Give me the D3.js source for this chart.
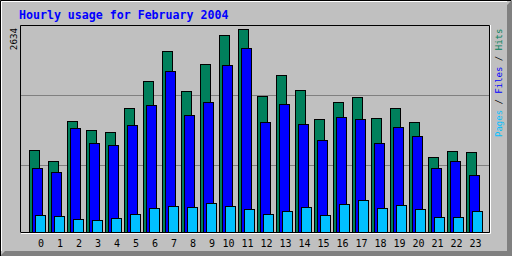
<!DOCTYPE html>
<html>
<head>
<meta charset="utf-8">
<script src="https://cdn.jsdelivr.net/npm/d3@7"></script>
<style>
  body { margin: 0; padding: 0; background: #fff; }
  text { font-family: "DejaVu Sans Mono", monospace; }
</style>
</head>
<body>
<div id="chart"></div>
<script>
// hourly usage
var hours = d3.range(0, 24);
var hits  = [1060, 917, 1436, 1320, 1294, 1605, 1955, 2345, 1826, 2176, 2552, 2634,
             1761, 2033, 1839, 1462, 1683, 1748, 1475, 1605, 1423, 969, 1047, 1034];
var files = [827, 775, 1346, 1151, 1125, 1384, 1644, 2085, 1514, 1683, 2163, 2384,
             1423, 1657, 1397, 1190, 1488, 1462, 1151, 1358, 1242, 827, 917, 736];
var pages = [217, 204, 165, 152, 178, 230, 308, 333, 320, 372, 333, 295,
             230, 269, 320, 217, 359, 411, 308, 346, 295, 191, 191, 269];
var gridSteps = [1, 2]; // lines at 1/3 and 2/3 of the plot

var svgWidth = 512, svgHeight = 256;

var svg = d3.select("#chart").append("svg")
    .attr("width", svgWidth)
    .attr("height", svgHeight);

// background + bevel
svg.append("rect").attr("width", svgWidth).attr("height", svgHeight).attr("fill", "#c0c0c0");
svg.append("polygon")
    .attr("points", "512,0 512,256 0,256 5,251 507,251 507,5")
    .attr("fill", "#808080");
svg.append("path").attr("d", "M0.5,256V0.5H511").attr("stroke", "#000").attr("fill", "none");
svg.append("path").attr("d", "M1.5,251V1.5H507").attr("stroke", "#fff").attr("fill", "none");

var maxVal = d3.max(hits);

var x = d3.scaleLinear().domain([0, 23]).range([29, 466]);
var y = d3.scaleLinear().domain([0, maxVal]).range([232, 29]);
var gridY = d3.scaleLinear().domain([0, 3]).range([234.5, 25.5]);

// plot frame
svg.append("path").attr("d", "M20.5,232V25.5H489.5V232.5H20.5").attr("stroke", "#000").attr("fill", "none");
svg.append("path").attr("d", "M21,233.5H490.5V25").attr("stroke", "#fff").attr("fill", "none");

// grid lines
svg.selectAll(".grid").data(gridSteps).enter().append("line")
    .attr("x1", 21).attr("x2", 489)
    .attr("y1", d => Math.round(gridY(d)) + 0.5)
    .attr("y2", d => Math.round(gridY(d)) + 0.5)
    .attr("stroke", "#808080");

var series = [
  { vals: hits,  off: 0, color: "#00805c" },
  { vals: files, off: 3, color: "#0000ff" },
  { vals: pages, off: 6, color: "#00c0ff" }
];

series.forEach(function(s) {
  svg.append("g").selectAll("rect")
    .data(hours)
    .enter().append("rect")
    .attr("x", h => x(h) + s.off + 0.5)
    .attr("y", h => Math.round(y(s.vals[h])) + 0.5)
    .attr("width", 10)
    .attr("height", h => 232 - Math.round(y(s.vals[h])))
    .attr("fill", s.color)
    .attr("stroke", "#000")
    .attr("stroke-width", 1);
});

// hour labels
svg.append("g").selectAll("text")
  .data(hours)
  .enter().append("text")
  .attr("x", h => x(h) + (h < 10 ? 12 : 9.5))
  .attr("y", 247)
  .attr("text-anchor", "middle")
  .attr("font-size", "10px")
  .attr("fill", "#000")
  .text(h => h);

// title
svg.append("text")
  .attr("x", 19)
  .attr("y", 19)
  .attr("font-size", "11.6px")
  .attr("font-weight", "bold")
  .attr("fill", "#0000ff")
  .text("Hourly usage for February 2004");

// max value, rotated
svg.append("text")
  .attr("transform", "translate(16.5,28) rotate(-90)")
  .attr("text-anchor", "end")
  .attr("font-size", "9.2px")
  .attr("fill", "#000")
  .text(maxVal);

// legend on the right, reading upward
var legend = svg.append("text")
  .attr("transform", "translate(501.5,137) rotate(-90)")
  .attr("font-size", "9px");
legend.append("tspan").attr("fill", "#00c0ff").text("Pages");
legend.append("tspan").attr("fill", "#000").text(" / ");
legend.append("tspan").attr("fill", "#0000ff").text("Files");
legend.append("tspan").attr("fill", "#000").text(" / ");
legend.append("tspan").attr("fill", "#00805c").text("Hits");
</script>
</body>
</html>
